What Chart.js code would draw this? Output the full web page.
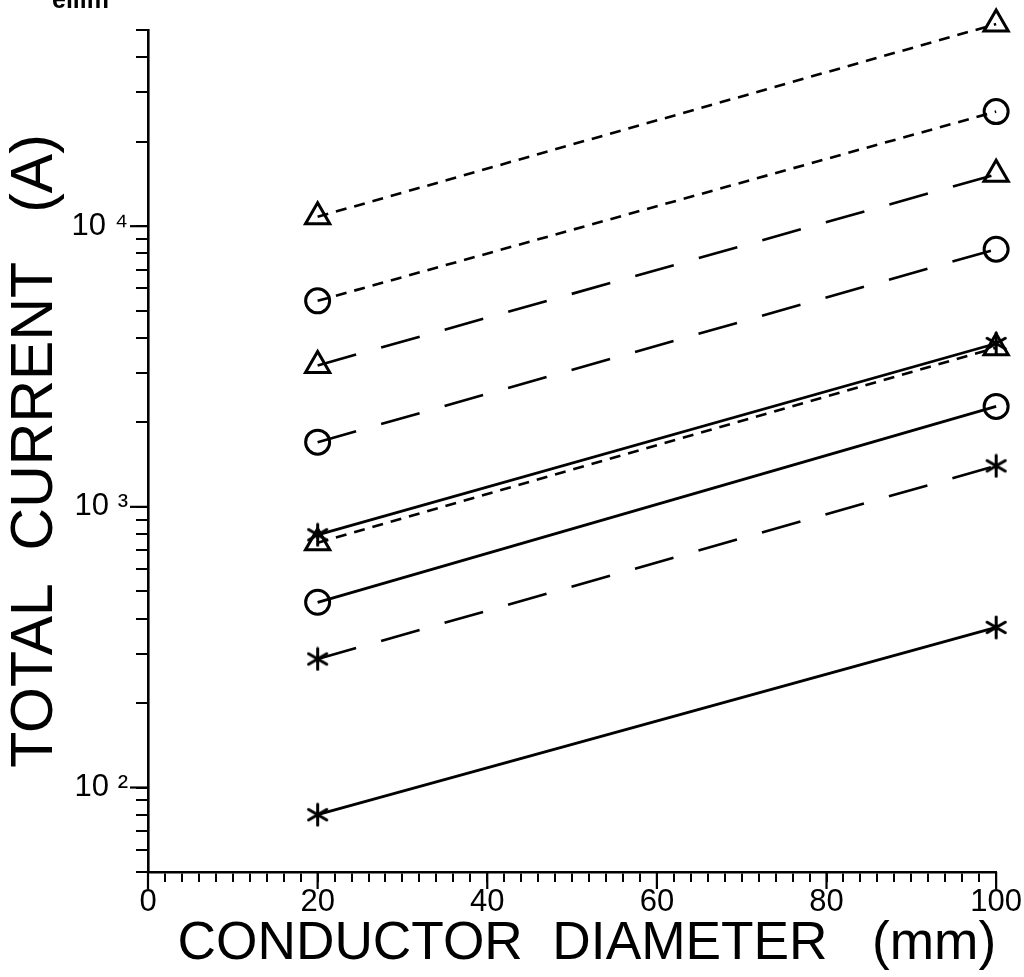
<!DOCTYPE html>
<html>
<head>
<meta charset="utf-8">
<script src="https://cdn.jsdelivr.net/npm/chart.js@4.4.1/dist/chart.umd.min.js"></script>
<style>
  html, body { margin: 0; padding: 0; background: #fff; }
  #wrap { position: relative; width: 1024px; height: 977px; overflow: hidden; }
  #corner { position: absolute; left: 52px; top: -15px; font: bold 25px "Liberation Sans", Arial, sans-serif; color: #000; }
</style>
</head>
<body>
<div id="wrap">
  <div id="corner">ellim</div>
  <canvas id="currentChart" width="1024" height="977"></canvas>
</div>
<script>
// conductor diameters (mm)
const diameters = [20, 100];

// total current (A) for each curve
const triShortTop = [10800, 52500];
const circShortTop = [5420, 25600];
const triLong = [3190, 15300];
const circLong = [1700, 8280];
const triShortLow = [745, 3690];
const starSolidTop = [795, 3820];
const circSolid = [457, 2280];
const starLong = [287, 1400];
const starSolidLow = [80, 372];

// axis ticks
const yTickValues = [50, 60, 70, 80, 90,
  100, 200, 300, 400, 500, 600, 700, 800, 900,
  1000, 2000, 3000, 4000, 5000, 6000, 7000, 8000, 9000,
  10000, 20000, 30000, 40000, 50000];
const yTickLabels = { 100: '10 \u00B2', 1000: '10 \u00B3', 10000: '10 \u2074' };
const xTickValues = [];
for (let v = 0; v <= 100; v += 2) xTickValues.push(v);
const xMajor = [0, 20, 40, 60, 80, 100];

// six-armed asterisk marker
function makeAsterisk(size) {
  const c = document.createElement('canvas');
  c.width = c.height = size;
  const g = c.getContext('2d');
  g.strokeStyle = '#000';
  g.lineWidth = 3;
  g.lineCap = 'round';
  const r = size / 2 - 2;
  [90, 30, 150].forEach(function (deg) {
    const a = deg * Math.PI / 180;
    g.beginPath();
    g.moveTo(size / 2 - r * Math.cos(a), size / 2 - r * Math.sin(a));
    g.lineTo(size / 2 + r * Math.cos(a), size / 2 + r * Math.sin(a));
    g.stroke();
  });
  return c;
}
const asterisk = makeAsterisk(25);

const SHORT = [11, 8];
const LONG = [40, 26];

function series(values, marker, dash) {
  return {
    data: values.map(function (v, i) { return { x: diameters[i], y: v }; }),
    borderColor: '#000',
    backgroundColor: 'rgba(0,0,0,0)',
    borderWidth: dash ? 2.6 : 2.8,
    borderDash: dash || [],
    pointStyle: marker,
    pointRadius: marker === 'triangle' ? 14 : 12,
    pointBorderWidth: 3,
    pointBorderColor: '#000',
    pointBackgroundColor: 'rgba(0,0,0,0)',
    tension: 0,
    clip: false
  };
}

// extend the major ticks beyond the minor ones
const majorTicks = {
  id: 'majorTicks',
  afterDraw(chart) {
    const ctx = chart.ctx, xs = chart.scales.x, ys = chart.scales.y;
    ctx.save();
    ctx.strokeStyle = '#000';
    ctx.lineWidth = 2.2;
    Object.keys(yTickLabels).forEach(function (v) {
      const py = ys.getPixelForValue(Number(v));
      ctx.beginPath();
      ctx.moveTo(ys.right, py);
      ctx.lineTo(ys.right - 18, py);
      ctx.stroke();
    });
    xMajor.forEach(function (v) {
      const px = xs.getPixelForValue(v);
      ctx.beginPath();
      ctx.moveTo(px, xs.top);
      ctx.lineTo(px, xs.top + 17);
      ctx.stroke();
    });
    ctx.restore();
  }
};

const labelFont = '"Liberation Sans Narrow", "Liberation Sans", Arial, sans-serif';

new Chart(document.getElementById('currentChart').getContext('2d'), {
  type: 'line',
  data: {
    datasets: [
      series(starSolidLow, asterisk, null),
      series(starLong, asterisk, LONG),
      series(circSolid, 'circle', null),
      series(starSolidTop, asterisk, null),
      series(triShortLow, 'triangle', SHORT),
      series(circLong, 'circle', LONG),
      series(triLong, 'triangle', LONG),
      series(circShortTop, 'circle', SHORT),
      series(triShortTop, 'triangle', SHORT)
    ]
  },
  options: {
    responsive: false,
    animation: false,
    layout: { padding: { left: 0, top: 30, right: 23, bottom: 0 } },
    plugins: { legend: { display: false }, tooltip: { enabled: false } },
    scales: {
      x: {
        type: 'linear',
        min: 0,
        max: 100,
        afterBuildTicks(scale) { scale.ticks = xTickValues.map(function (v) { return { value: v }; }); },
        afterFit(scale) { scale.height = 105; },
        ticks: {
          autoSkip: false,
          maxRotation: 0,
          padding: 2,
          color: '#000',
          font: { family: labelFont, size: 31 },
          callback: function (v) { return v % 20 === 0 ? String(v) : ''; }
        },
        grid: { drawOnChartArea: false, drawTicks: true, tickLength: 10, color: '#000', lineWidth: 2 },
        border: { display: true, color: '#000', width: 2.6 },
        title: {
          display: true,
          text: '  CONDUCTOR  DIAMETER   (mm)',
          color: '#000',
          font: { family: '"Liberation Sans", Arial, sans-serif', size: 54 },
          padding: { top: 0, bottom: 0 }
        }
      },
      y: {
        type: 'logarithmic',
        min: 50,
        max: 50000,
        afterBuildTicks(scale) { scale.ticks = yTickValues.map(function (v) { return { value: v }; }); },
        afterFit(scale) { scale.width = 148; },
        ticks: {
          autoSkip: false,
          padding: 8,
          color: '#000',
          font: { family: labelFont, size: 31 },
          callback: function (v) { return yTickLabels[v] || ''; }
        },
        grid: { drawOnChartArea: false, drawTicks: true, tickLength: 12, color: '#000', lineWidth: 2 },
        border: { display: true, color: '#000', width: 2.6 },
        title: {
          display: true,
          text: 'TOTAL  CURRENT   (A)',
          color: '#000',
          font: { family: '"Liberation Sans", Arial, sans-serif', size: 59 },
          padding: { top: 0, bottom: 0 }
        }
      }
    }
  },
  plugins: [majorTicks]
});
</script>
</body>
</html>
